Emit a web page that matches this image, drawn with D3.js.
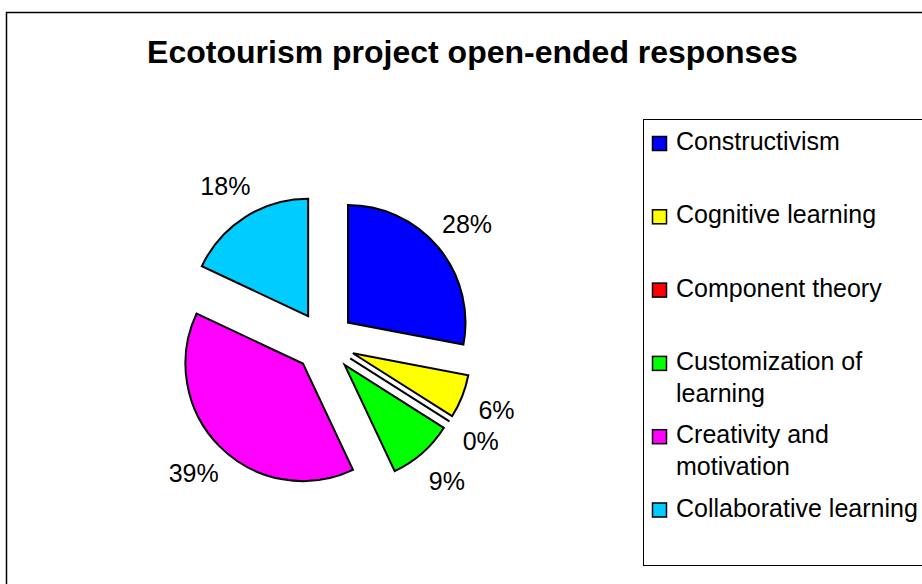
<!DOCTYPE html>
<html>
<head>
<meta charset="utf-8">
<script src="https://cdn.jsdelivr.net/npm/d3@7"></script>
<style>
    body { margin: 0; background: #fff; }
    text { font-family: "Liberation Sans", Arial, sans-serif; }
</style>
</head>
<body>
<svg id="chart" width="922" height="584"></svg>
<script>
const categories = [
        "Constructivism",
        "Cognitive learning",
        "Component theory",
        "Customization of learning",
        "Creativity and motivation",
        "Collaborative learning",
    ],
    legendLines = [
        ["Constructivism"],
        ["Cognitive learning"],
        ["Component theory"],
        ["Customization of", "learning"],
        ["Creativity and", "motivation"],
        ["Collaborative learning"],
    ],
    values = [28, 6, 0, 9, 39, 18],
    colors = ["#0000ff", "#ffff00", "#ff0000", "#00ff00", "#ff00ff", "#00ccff"];

const svg = d3.select("#chart");

// outer chart border (runs off the right and bottom)
svg.append("rect")
    .attr("x", 6.5).attr("y", 12.5)
    .attr("width", 940).attr("height", 600)
    .attr("fill", "none").attr("stroke", "#000").attr("stroke-width", 1.5);

svg.append("text")
    .attr("x", 472.5).attr("y", 63)
    .attr("text-anchor", "middle")
    .style("font-size", "32px").style("font-weight", "bold")
    .text("Ecotourism project open-ended responses");

const cx = 324.5, cy = 342, radius = 117.5, explode = 30.5, labelRadius = 185;

const pie = d3.pie().sort(null).value(d => d)(values);
const arc = d3.arc().innerRadius(0).outerRadius(radius);

const g = svg.append("g").attr("transform", `translate(${cx},${cy})`);

function dir(d) {
    const a = (d.startAngle + d.endAngle) / 2;
    return [Math.sin(a), -Math.cos(a)];
}

g.selectAll(".slice")
    .data(pie)
    .enter().append("path")
    .attr("class", "slice")
    .attr("transform", d => {
        const [dx, dy] = dir(d);
        return `translate(${dx * explode},${dy * explode})`;
    })
    .attr("d", arc)
    .attr("fill", (d, i) => colors[i])
    .attr("stroke", "#000")
    .attr("stroke-width", 2)
    .attr("stroke-linejoin", "miter");

g.selectAll(".label")
    .data(pie)
    .enter().append("text")
    .attr("class", "label")
    .attr("x", d => dir(d)[0] * labelRadius)
    .attr("y", d => dir(d)[1] * labelRadius)
    .attr("text-anchor", "middle")
    .attr("dominant-baseline", "central")
    .style("font-size", "25px")
    .text(d => d.data + "%");

// legend
const legend = svg.append("g");
legend.append("rect")
    .attr("x", 643.5).attr("y", 119.5)
    .attr("width", 300).attr("height", 446)
    .attr("fill", "#fff").attr("stroke", "#000").attr("stroke-width", 1);

const rowStep = 73.3, firstBaseline = 150;
const item = legend.selectAll(".item")
    .data(categories)
    .enter().append("g")
    .attr("class", "item")
    .attr("transform", (d, i) => `translate(0,${firstBaseline + i * rowStep})`);

item.append("rect")
    .attr("x", 652.5).attr("y", -13.5)
    .attr("width", 14).attr("height", 14)
    .attr("fill", (d, i) => colors[i])
    .attr("stroke", "#000").attr("stroke-width", 1.5);

item.append("text")
    .attr("x", 676)
    .style("font-size", "25px")
    .selectAll("tspan")
    .data((d, i) => legendLines[i])
    .enter().append("tspan")
    .attr("x", 676)
    .attr("y", (d, j) => j * 32)
    .text(d => d);
</script>
</body>
</html>
